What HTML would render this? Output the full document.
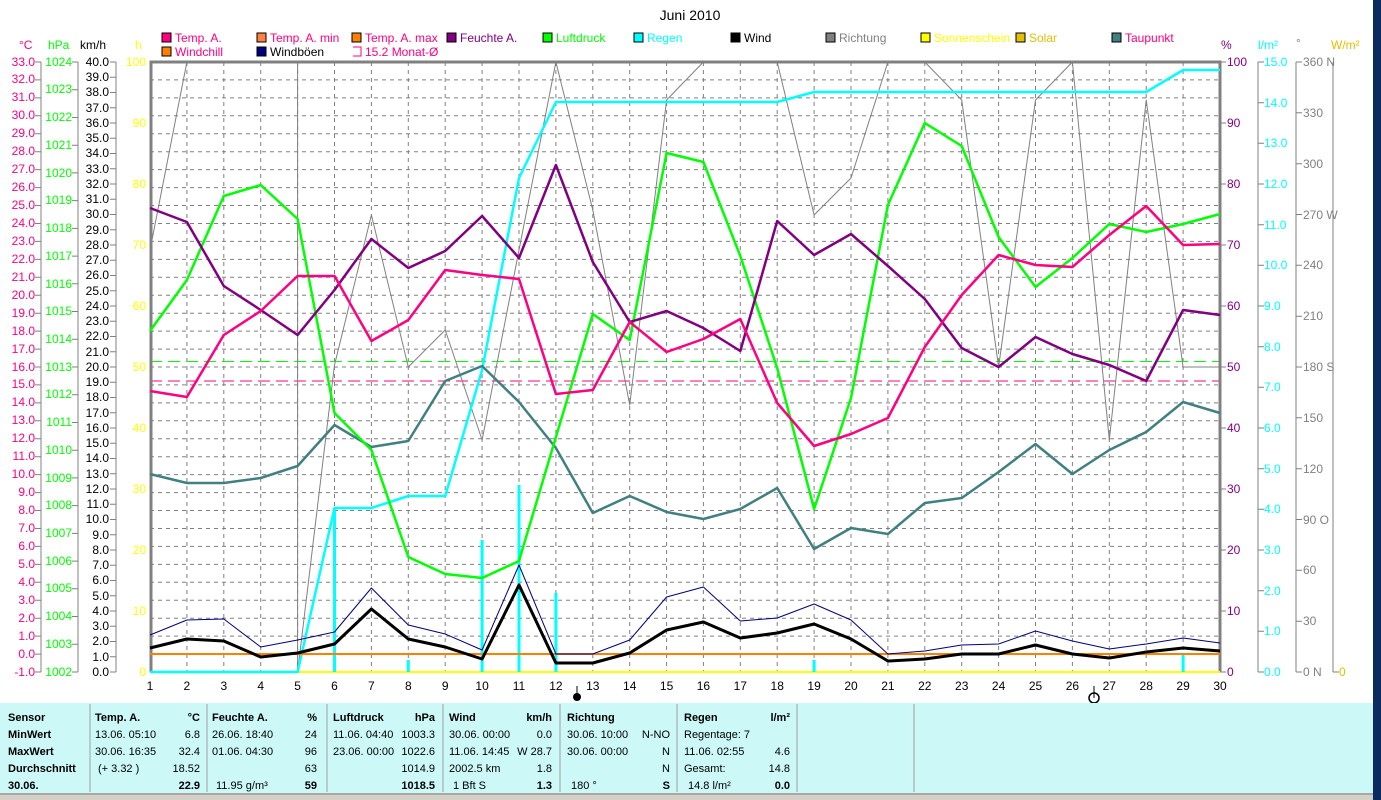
<!DOCTYPE html>
<html><head><meta charset="utf-8"><style>
html,body{margin:0;padding:0;background:#fff;width:1381px;height:800px;overflow:hidden}
svg{display:block;font-family:"Liberation Sans",sans-serif}
</style></head><body>
<svg width="1381" height="800" viewBox="0 0 1381 800">
<rect x="0" y="0" width="1381" height="800" fill="#fff"/>
<text x="690" y="20" font-size="14" text-anchor="middle">Juni 2010</text>
<!-- legend -->
<g font-size="12">
<rect x="162" y="33" width="9" height="9" fill="#ff0080" stroke="#000"/><text x="175" y="42" fill="#ff0080">Temp. A.</text>
<rect x="257" y="33" width="9" height="9" fill="#ff8040" stroke="#000"/><text x="270" y="42" fill="#ff0080">Temp. A. min</text>
<rect x="352" y="33" width="9" height="9" fill="#ff8000" stroke="#000"/><text x="365" y="42" fill="#ff0080">Temp. A. max</text>
<rect x="447" y="33" width="9" height="9" fill="#800080" stroke="#000"/><text x="460" y="42" fill="#800080">Feuchte A.</text>
<rect x="543" y="33" width="9" height="9" fill="#00ff00" stroke="#000"/><text x="556" y="42" fill="#00ff00">Luftdruck</text>
<rect x="634" y="33" width="9" height="9" fill="#00ffff" stroke="#000"/><text x="647" y="42" fill="#00ffff">Regen</text>
<rect x="731" y="33" width="9" height="9" fill="#000" stroke="#000"/><text x="744" y="42" fill="#000">Wind</text>
<rect x="826" y="33" width="9" height="9" fill="#808080" stroke="#000"/><text x="839" y="42" fill="#808080">Richtung</text>
<rect x="921" y="33" width="9" height="9" fill="#ffff00" stroke="#000"/><text x="934" y="42" fill="#ffff00">Sonnenschein</text>
<rect x="1016" y="33" width="9" height="9" fill="#e0c000" stroke="#000"/><text x="1029" y="42" fill="#e0c000">Solar</text>
<rect x="1112" y="33" width="9" height="9" fill="#408080" stroke="#000"/><text x="1125" y="42" fill="#ff0080">Taupunkt</text>
<rect x="162" y="47" width="9" height="9" fill="#ff8000" stroke="#000"/><text x="175" y="56" fill="#ff0080">Windchill</text>
<rect x="257" y="47" width="9" height="9" fill="#000080" stroke="#000"/><text x="270" y="56" fill="#000">Windböen</text>
<path d="M353 47h8v9h-8" fill="none" stroke="#ff0080"/><text x="365" y="56" fill="#ff0080">15.2 Monat-Ø</text>
</g>
<!-- axis titles -->
<g font-size="12">
<text x="19" y="49" fill="#ff0080">°C</text><text x="48" y="49" fill="#00ff00">hPa</text><text x="80" y="49" fill="#000">km/h</text><text x="135" y="49" fill="#ffff00">h</text>
<text x="1221" y="49" fill="#800080">%</text><text x="1258" y="49" fill="#00ffff">l/m²</text><text x="1296" y="47" fill="#808080">°</text><text x="1331" y="49" fill="#e0c000">W/m²</text>
</g>
<!-- grid -->
<g stroke="#808080" stroke-dasharray="4,4" stroke-width="1">
<path d="M150 79.9H1220M150 97.9H1220M150 115.8H1220M150 133.8H1220M150 151.7H1220M150 169.6H1220M150 187.6H1220M150 205.5H1220M150 223.5H1220M150 241.4H1220M150 259.4H1220M150 277.3H1220M150 295.2H1220M150 313.2H1220M150 331.1H1220M150 349.1H1220M150 367H1220M150 384.9H1220M150 402.9H1220M150 420.8H1220M150 438.8H1220M150 456.7H1220M150 474.6H1220M150 492.6H1220M150 510.5H1220M150 528.5H1220M150 546.4H1220M150 564.4H1220M150 582.3H1220M150 600.2H1220M150 618.2H1220M150 636.1H1220M150 654.1H1220"/>
<path d="M186.9 62V672M223.8 62V672M260.7 62V672M297.6 62V672M334.5 62V672M371.4 62V672M408.3 62V672M445.2 62V672M482.1 62V672M519 62V672M555.9 62V672M592.8 62V672M629.7 62V672M666.6 62V672M703.4 62V672M740.3 62V672M777.2 62V672M814.1 62V672M851 62V672M887.9 62V672M924.8 62V672M961.7 62V672M998.6 62V672M1035.5 62V672M1072.4 62V672M1109.3 62V672M1146.2 62V672M1183.1 62V672"/>
</g>
<path d="M150 361.5H1220" stroke="#00ff00" stroke-dasharray="12,6"/>
<path d="M150 381H1220" stroke="#ff0080" stroke-dasharray="12,6"/>
<!-- frame -->
<path d="M151 672V62H1220V672" fill="none" stroke="#808080" stroke-width="3"/>
<path d="M150 672H1220" stroke="#ffff00" stroke-width="2"/>
<!-- axes -->
<g stroke="#808080" fill="none">
<path d="M41 62V672M78 62V672M116 62V672"/>
<path d="M35 672h6M35 654.1h6M35 636.1h6M35 618.2h6M35 600.2h6M35 582.3h6M35 564.4h6M35 546.4h6M35 528.5h6M35 510.5h6M35 492.6h6M35 474.6h6M35 456.7h6M35 438.8h6M35 420.8h6M35 402.9h6M35 384.9h6M35 367h6M35 349.1h6M35 331.1h6M35 313.2h6M35 295.2h6M35 277.3h6M35 259.4h6M35 241.4h6M35 223.5h6M35 205.5h6M35 187.6h6M35 169.6h6M35 151.7h6M35 133.8h6M35 115.8h6M35 97.9h6M35 79.9h6M35 62h6"/>
<path d="M72 672h6M72 644.3h6M72 616.5h6M72 588.8h6M72 561.1h6M72 533.4h6M72 505.6h6M72 477.9h6M72 450.2h6M72 422.5h6M72 394.7h6M72 367h6M72 339.3h6M72 311.5h6M72 283.8h6M72 256.1h6M72 228.4h6M72 200.6h6M72 172.9h6M72 145.2h6M72 117.5h6M72 89.7h6M72 62h6"/>
<path d="M110 672h6M110 656.75h6M110 641.5h6M110 626.25h6M110 611h6M110 595.75h6M110 580.5h6M110 565.25h6M110 550h6M110 534.75h6M110 519.5h6M110 504.25h6M110 489h6M110 473.75h6M110 458.5h6M110 443.25h6M110 428h6M110 412.75h6M110 397.5h6M110 382.25h6M110 367h6M110 351.75h6M110 336.5h6M110 321.25h6M110 306h6M110 290.75h6M110 275.5h6M110 260.25h6M110 245h6M110 229.75h6M110 214.5h6M110 199.25h6M110 184h6M110 168.75h6M110 153.5h6M110 138.25h6M110 123h6M110 107.75h6M110 92.5h6M110 77.25h6M110 62h6"/>
<path d="M1220 672h6M1220 611h6M1220 550h6M1220 489h6M1220 428h6M1220 367h6M1220 306h6M1220 245h6M1220 184h6M1220 123h6M1220 62h6"/>
<path d="M1258 62V672M1296 62V672M1333 62V672"/>
<path d="M1258 672h6M1258 631.3h6M1258 590.7h6M1258 550h6M1258 509.3h6M1258 468.7h6M1258 428h6M1258 387.3h6M1258 346.7h6M1258 306h6M1258 265.3h6M1258 224.7h6M1258 184h6M1258 143.3h6M1258 102.7h6M1258 62h6"/>
<path d="M1296 672h6M1296 621.2h6M1296 570.3h6M1296 519.5h6M1296 468.7h6M1296 417.8h6M1296 367h6M1296 316.2h6M1296 265.3h6M1296 214.5h6M1296 163.7h6M1296 112.8h6M1296 62h6"/>
<path d="M1333 672h6"/>
</g>
<g font-size="12" text-anchor="end" fill="#ff0080">
<text x="35" y="676">-1.0</text><text x="35" y="658">0.0</text><text x="35" y="640">1.0</text><text x="35" y="622">2.0</text><text x="35" y="604">3.0</text><text x="35" y="586">4.0</text><text x="35" y="568">5.0</text><text x="35" y="550">6.0</text><text x="35" y="532">7.0</text><text x="35" y="514">8.0</text><text x="35" y="496">9.0</text><text x="35" y="478">10.0</text><text x="35" y="460">11.0</text><text x="35" y="442">12.0</text><text x="35" y="424">13.0</text><text x="35" y="406">14.0</text><text x="35" y="388">15.0</text><text x="35" y="371">16.0</text><text x="35" y="353">17.0</text><text x="35" y="335">18.0</text><text x="35" y="317">19.0</text><text x="35" y="299">20.0</text><text x="35" y="281">21.0</text><text x="35" y="263">22.0</text><text x="35" y="245">23.0</text><text x="35" y="227">24.0</text><text x="35" y="209">25.0</text><text x="35" y="191">26.0</text><text x="35" y="173">27.0</text><text x="35" y="155">28.0</text><text x="35" y="137">29.0</text><text x="35" y="119">30.0</text><text x="35" y="101">31.0</text><text x="35" y="83">32.0</text><text x="35" y="66">33.0</text>
</g>
<g font-size="12" text-anchor="end" fill="#00ff00">
<text x="72" y="676">1002</text><text x="72" y="648">1003</text><text x="72" y="620">1004</text><text x="72" y="592">1005</text><text x="72" y="565">1006</text><text x="72" y="537">1007</text><text x="72" y="509">1008</text><text x="72" y="482">1009</text><text x="72" y="454">1010</text><text x="72" y="426">1011</text><text x="72" y="398">1012</text><text x="72" y="371">1013</text><text x="72" y="343">1014</text><text x="72" y="315">1015</text><text x="72" y="288">1016</text><text x="72" y="260">1017</text><text x="72" y="232">1018</text><text x="72" y="204">1019</text><text x="72" y="177">1020</text><text x="72" y="149">1021</text><text x="72" y="121">1022</text><text x="72" y="93">1023</text><text x="72" y="66">1024</text>
</g>
<g font-size="12" text-anchor="end" fill="#000">
<text x="109" y="676">0.0</text><text x="109" y="661">1.0</text><text x="109" y="645">2.0</text><text x="109" y="630">3.0</text><text x="109" y="615">4.0</text><text x="109" y="600">5.0</text><text x="109" y="584">6.0</text><text x="109" y="569">7.0</text><text x="109" y="554">8.0</text><text x="109" y="539">9.0</text><text x="109" y="523">10.0</text><text x="109" y="508">11.0</text><text x="109" y="493">12.0</text><text x="109" y="478">13.0</text><text x="109" y="462">14.0</text><text x="109" y="447">15.0</text><text x="109" y="432">16.0</text><text x="109" y="417">17.0</text><text x="109" y="401">18.0</text><text x="109" y="386">19.0</text><text x="109" y="371">20.0</text><text x="109" y="356">21.0</text><text x="109" y="340">22.0</text><text x="109" y="325">23.0</text><text x="109" y="310">24.0</text><text x="109" y="295">25.0</text><text x="109" y="279">26.0</text><text x="109" y="264">27.0</text><text x="109" y="249">28.0</text><text x="109" y="234">29.0</text><text x="109" y="218">30.0</text><text x="109" y="203">31.0</text><text x="109" y="188">32.0</text><text x="109" y="173">33.0</text><text x="109" y="157">34.0</text><text x="109" y="142">35.0</text><text x="109" y="127">36.0</text><text x="109" y="112">37.0</text><text x="109" y="96">38.0</text><text x="109" y="81">39.0</text><text x="109" y="66">40.0</text>
</g>
<g font-size="12" text-anchor="end" fill="#ffff00">
<text x="146" y="676">0</text><text x="146" y="615">10</text><text x="146" y="554">20</text><text x="146" y="493">30</text><text x="146" y="432">40</text><text x="146" y="371">50</text><text x="146" y="310">60</text><text x="146" y="249">70</text><text x="146" y="188">80</text><text x="146" y="127">90</text><text x="146" y="66">100</text>
</g>
<g font-size="12" fill="#800080">
<text x="1227" y="676">0</text><text x="1227" y="615">10</text><text x="1227" y="554">20</text><text x="1227" y="493">30</text><text x="1227" y="432">40</text><text x="1227" y="371">50</text><text x="1227" y="310">60</text><text x="1227" y="249">70</text><text x="1227" y="188">80</text><text x="1227" y="127">90</text><text x="1227" y="66">100</text>
</g>
<g font-size="12" fill="#00ffff">
<text x="1264" y="676">0.0</text><text x="1264" y="635">1.0</text><text x="1264" y="595">2.0</text><text x="1264" y="554">3.0</text><text x="1264" y="513">4.0</text><text x="1264" y="473">5.0</text><text x="1264" y="432">6.0</text><text x="1264" y="391">7.0</text><text x="1264" y="351">8.0</text><text x="1264" y="310">9.0</text><text x="1264" y="269">10.0</text><text x="1264" y="229">11.0</text><text x="1264" y="188">12.0</text><text x="1264" y="147">13.0</text><text x="1264" y="107">14.0</text><text x="1264" y="66">15.0</text>
</g>
<g font-size="12" fill="#808080">
<text x="1303" y="676">0   N</text><text x="1303" y="625">30</text><text x="1303" y="574">60</text><text x="1303" y="524">90   O</text><text x="1303" y="473">120</text><text x="1303" y="422">150</text><text x="1303" y="371">180  S</text><text x="1303" y="320">210</text><text x="1303" y="269">240</text><text x="1303" y="219">270  W</text><text x="1303" y="168">300</text><text x="1303" y="117">330</text><text x="1303" y="66">360  N</text>
</g>
<text x="1339" y="676" font-size="12" fill="#e0c000">0</text>
<g font-size="12" text-anchor="middle" fill="#000">
<text x="150" y="690">1</text><text x="186.9" y="690">2</text><text x="223.8" y="690">3</text><text x="260.7" y="690">4</text><text x="297.6" y="690">5</text><text x="334.5" y="690">6</text><text x="371.4" y="690">7</text><text x="408.3" y="690">8</text><text x="445.2" y="690">9</text><text x="482.1" y="690">10</text><text x="519" y="690">11</text><text x="555.9" y="690">12</text><text x="592.8" y="690">13</text><text x="629.7" y="690">14</text><text x="666.6" y="690">15</text><text x="703.4" y="690">16</text><text x="740.3" y="690">17</text><text x="777.2" y="690">18</text><text x="814.1" y="690">19</text><text x="851" y="690">20</text><text x="887.9" y="690">21</text><text x="924.8" y="690">22</text><text x="961.7" y="690">23</text><text x="998.6" y="690">24</text><text x="1035.5" y="690">25</text><text x="1072.4" y="690">26</text><text x="1109.3" y="690">27</text><text x="1146.2" y="690">28</text><text x="1183.1" y="690">29</text><text x="1220" y="690">30</text>
</g>
<path d="M577 686v12M1094 686v12" stroke="#000"/>
<circle cx="577" cy="697" r="4" fill="#000"/>
<circle cx="1094" cy="698" r="5" fill="none" stroke="#000" stroke-width="1.5"/>
<!-- series -->
<g fill="none" stroke-linejoin="round">
<polyline stroke="#808080" stroke-width="1" points="150,250 186.9,62 223.8,62 260.7,62 297.6,62 297.6,672 334.5,365 371.4,215 408.3,367 445.2,330 482.1,440 519,250 555.9,62 592.8,210 629.7,405 666.6,100 703.4,62 740.3,62 777.2,62 814.1,215 851,178 887.9,62 924.8,62 961.7,100 998.6,367 1035.5,100 1072.4,62 1109.3,440 1146.2,100 1183.1,367 1220,367"/>
<polyline stroke="#00ffff" stroke-width="2.5" points="150,672 297.6,672 334.5,508 371.4,508 408.3,496 445.2,496 482.1,370 519,178 555.9,102 592.8,102 777.2,102 814.1,92 1146.2,92 1183.1,70 1220,70"/>
<path stroke="#00ffff" stroke-width="3" d="M334.5 508V672M408.3 660V672M482.1 540V672M519 485V672M555.9 593V672M814.1 660V672M1183.1 655V672"/>
<polyline stroke="#408080" stroke-width="2.5" points="150,474 186.9,483 223.8,483 260.7,478 297.6,466 334.5,425 371.4,447 408.3,441 445.2,381 482.1,366 519,402 555.9,448 592.8,513 629.7,496 666.6,512 703.4,519 740.3,509 777.2,488 814.1,549 851,528 887.9,534 924.8,503 961.7,498 998.6,472 1035.5,444 1072.4,474 1109.3,450 1146.2,432 1183.1,402 1220,413"/>
<polyline stroke="#00ff00" stroke-width="2.5" points="150,331 186.9,280 223.8,196 260.7,185 297.6,219 334.5,413 371.4,450 408.3,557 445.2,574 482.1,578 519,561 555.9,437 592.8,314 629.7,340 666.6,153 703.4,162 740.3,256 777.2,368 814.1,509 851,398 887.9,205 924.8,123 961.7,146 998.6,237 1035.5,287 1072.4,258 1109.3,224 1146.2,232 1183.1,224 1220,214"/>
<polyline stroke="#800080" stroke-width="2.5" points="150,208 186.9,222 223.8,286 260.7,310 297.6,335 334.5,290 371.4,239 408.3,268 445.2,251 482.1,216 519,258 555.9,165 592.8,262 629.7,322 666.6,311 703.4,328 740.3,351 777.2,221 814.1,255 851,234 887.9,266 924.8,299 961.7,348 998.6,367 1035.5,337 1072.4,354 1109.3,365 1146.2,381 1183.1,310 1220,315"/>
<polyline stroke="#ff0080" stroke-width="2.5" points="150,391 186.9,397 223.8,335 260.7,311 297.6,276 334.5,276 371.4,341 408.3,320 445.2,270 482.1,275 519,279 555.9,394 592.8,390 629.7,322 666.6,352 703.4,339 740.3,319 777.2,403 814.1,446 851,434 887.9,418 924.8,347 961.7,295 998.6,255 1035.5,265 1072.4,267 1109.3,235 1146.2,206 1183.1,245 1220,244"/>
<path stroke="#ff8000" stroke-width="2" d="M150 654H1220"/>
<polyline stroke="#000080" stroke-width="1" points="150,635 186.9,620 223.8,619 260.7,647 297.6,640 334.5,632 371.4,588 408.3,625 445.2,634 482.1,650 519,565 555.9,654 592.8,654 629.7,640 666.6,597 703.4,587 740.3,621 777.2,618 814.1,604 851,620 887.9,654 924.8,651 961.7,645 998.6,644 1035.5,631 1072.4,641 1109.3,649 1146.2,644 1183.1,638 1220,643"/>
<polyline stroke="#000" stroke-width="3" points="150,648 186.9,639 223.8,641 260.7,657 297.6,653 334.5,644 371.4,609 408.3,639 445.2,647 482.1,659 519,585 555.9,663 592.8,663 629.7,653 666.6,630 703.4,622 740.3,638 777.2,633 814.1,624 851,639 887.9,661 924.8,659 961.7,654 998.6,654 1035.5,645 1072.4,654 1109.3,658 1146.2,652 1183.1,648 1220,651"/>
</g>
<!-- bottom table -->
<rect x="0" y="703" width="1373" height="90" fill="#ccf8f8"/>
<path d="M90 704V792M207 704V792M327 704V792M443 704V792M560 704V792M677 704V792M797 704V792M914 704V792" stroke="#a0a0a0"/>
<rect x="0" y="793" width="1373" height="7" fill="#d4d0c8"/>
<path d="M0 794H1373" stroke="#808080"/>
<rect x="1373" y="0" width="8" height="800" fill="#0a2a60"/>
<g font-size="11" fill="#000">
<g font-weight="bold"><text x="8" y="721">Sensor</text><text x="8" y="738">MinWert</text><text x="8" y="755">MaxWert</text><text x="8" y="772">Durchschnitt</text><text x="8" y="789">30.06.</text>
<text x="95" y="721">Temp. A.</text><text x="212" y="721">Feuchte A.</text><text x="333" y="721">Luftdruck</text><text x="449" y="721">Wind</text><text x="567" y="721">Richtung</text><text x="684" y="721">Regen</text></g>
<g text-anchor="end" font-weight="bold"><text x="200" y="721">°C</text><text x="317" y="721">%</text><text x="435" y="721">hPa</text><text x="552" y="721">km/h</text><text x="790" y="721">l/m²</text>
<text x="200" y="789">22.9</text><text x="317" y="789">59</text><text x="435" y="789">1018.5</text><text x="552" y="789">1.3</text><text x="670" y="789">S</text><text x="790" y="789">0.0</text></g>
<text x="95" y="738">13.06.  05:10</text><text x="95" y="755">30.06.  16:35</text><text x="98" y="772">(+ 3.32 )</text>
<text x="212" y="738">26.06.  18:40</text><text x="212" y="755">01.06.  04:30</text><text x="216" y="789">11.95 g/m³</text>
<text x="333" y="738">11.06.  04:40</text><text x="333" y="755">23.06.  00:00</text>
<text x="449" y="738">30.06.  00:00</text><text x="449" y="755">11.06.  14:45</text><text x="449" y="772">2002.5 km</text><text x="453" y="789">1 Bft S</text>
<text x="567" y="738">30.06.  10:00</text><text x="567" y="755">30.06.  00:00</text><text x="571" y="789">180 °</text>
<text x="684" y="738">Regentage: 7</text><text x="684" y="755">11.06.  02:55</text><text x="684" y="772">Gesamt:</text><text x="688" y="789">14.8 l/m²</text>
<g text-anchor="end"><text x="200" y="738">6.8</text><text x="200" y="755">32.4</text><text x="200" y="772">18.52</text>
<text x="317" y="738">24</text><text x="317" y="755">96</text><text x="317" y="772">63</text>
<text x="435" y="738">1003.3</text><text x="435" y="755">1022.6</text><text x="435" y="772">1014.9</text>
<text x="552" y="738">0.0</text><text x="552" y="755">W 28.7</text><text x="552" y="772">1.8</text>
<text x="670" y="738">N-NO</text><text x="670" y="755">N</text><text x="670" y="772">N</text>
<text x="790" y="755">4.6</text><text x="790" y="772">14.8</text></g>
</g>
</svg>
</body></html>
